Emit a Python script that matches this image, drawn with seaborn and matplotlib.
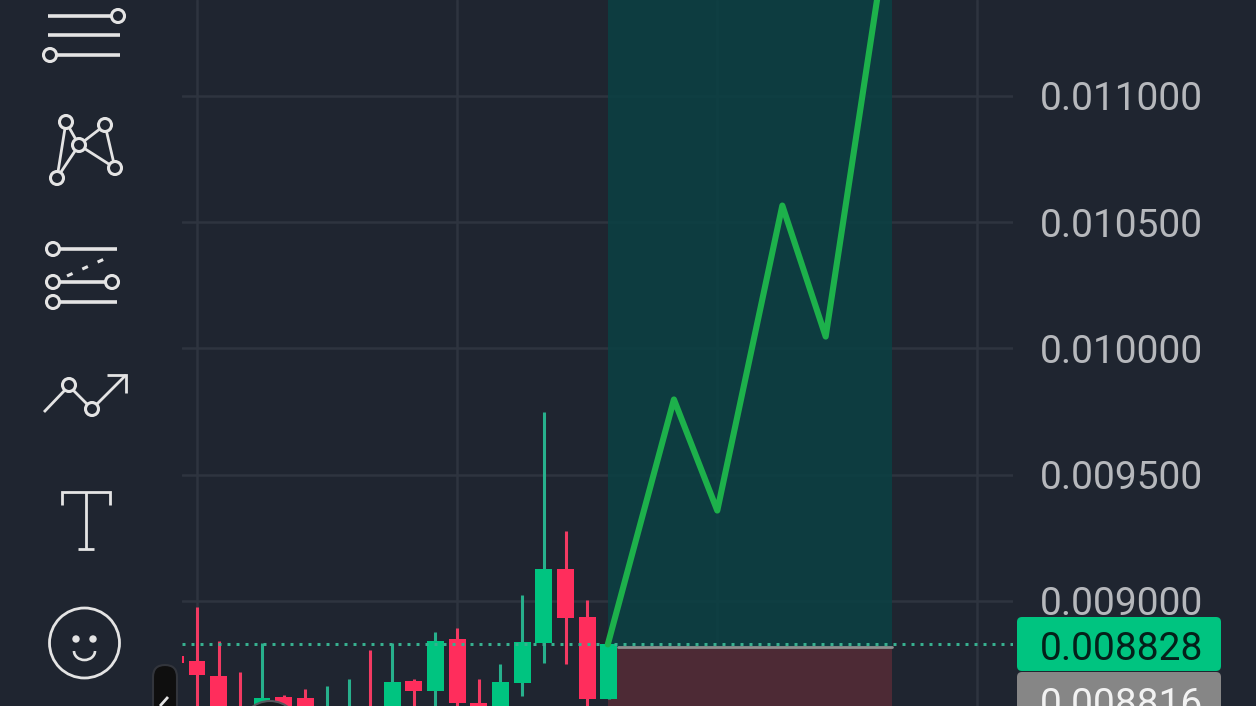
import matplotlib

matplotlib.use("Agg")
import matplotlib.pyplot as plt
import pandas as pd
import seaborn as sns
from matplotlib.patches import Arc, Circle, FancyBboxPatch

# price axis
PRICE_TICKS = [0.009, 0.0095, 0.010, 0.0105, 0.011]
PRICE_LABELS = ["0.009000", "0.009500", "0.010000", "0.010500", "0.011000"]
TIME_TICKS = [0, 12, 24, 36]

# candles, -1 is the one clipped at the left edge of the chart
# values under 0.00858 are below the visible part of the reference, so only a guess
CANDLE_INDEX = list(range(-1, 20))
OPENS = [0.008782, 0.008762, 0.008703, 0.008570, 0.008560, 0.008620, 0.008616, 0.008560, 0.008560,
         0.008570, 0.008560, 0.008683, 0.008644, 0.008850, 0.008596, 0.008560, 0.008675, 0.008834,
         0.009127, 0.008937, 0.008612]
CLOSES = [0.008754, 0.008707, 0.008560, 0.008560, 0.008616, 0.008560, 0.008560, 0.008570, 0.008570,
          0.008560, 0.008679, 0.008644, 0.008842, 0.008596, 0.008560, 0.008679, 0.008838, 0.009127,
          0.008933, 0.008612, 0.008828]
HIGHS = [0.008782, 0.008976, 0.008842, 0.008719, 0.008834, 0.008628, 0.008651, 0.008663, 0.008691,
         0.008806, 0.008834, 0.008691, 0.008877, 0.008893, 0.008691, 0.008750, 0.009024, 0.009749,
         0.009277, 0.009004, 0.008828]
LOWS = [0.008754, 0.008560, 0.008560, 0.008560, 0.008560, 0.008560, 0.008560, 0.008560, 0.008560,
        0.008560, 0.008560, 0.008560, 0.008560, 0.008560, 0.008560, 0.008560, 0.008624, 0.008754,
        0.008750, 0.008560, 0.008612]

# last price and the long position drawn on top of the chart
LAST_PRICE = 0.008828
ENTRY_PRICE = 0.008816
POSITION_START = 18.95
POSITION_END = 32.05
PATH_INDEX = [18.95, 22, 24, 27, 29, 31.42]
PATH_PRICE = [0.008828, 0.009798, 0.009358, 0.010566, 0.010047, 0.011410]

BG = "#1f2530"
GRID = "#2e343f"
GREEN = "#00c480"
RED = "#ff2d5c"
WICK_GREEN = "#27b08c"
WICK_RED = "#f23a62"
ICON = "#e4e4e4"

sns.set_theme(style="dark", rc={"axes.facecolor": BG, "figure.facecolor": BG})
plt.rcParams["font.family"] = ["Roboto", "DejaVu Sans"]

fig = plt.figure(figsize=(12.56, 7.06), dpi=100)
ax = fig.add_axes([182 / 1256, 0, (1013 - 182) / 1256, 1])
ax.set_xlim(-0.69, 37.64)
ax.set_ylim(0.008584, 0.011380)

ax.set_yticks(PRICE_TICKS, PRICE_LABELS)
ax.set_xticks(TIME_TICKS, [""] * len(TIME_TICKS))
ax.yaxis.tick_right()
ax.tick_params(axis="y", length=0, pad=19.2, labelsize=28, labelcolor="#b6b8bc")
ax.tick_params(axis="x", length=0)
ax.grid(True, color=GRID, linewidth=1.8)
ax.set_axisbelow(True)
sns.despine(ax=ax, left=True, bottom=True, right=True, top=True)

# position boxes, the grid shows faintly through the green one
ax.fill_between([POSITION_START, POSITION_END], ENTRY_PRICE, 0.0115, color="#0b4043", alpha=0.88,
                linewidth=0, zorder=1)
ax.fill_between([POSITION_START, POSITION_END], 0.0085, ENTRY_PRICE, color="#4d2a35", linewidth=0, zorder=1)

# candles
candles = pd.DataFrame({"i": CANDLE_INDEX, "open": OPENS, "close": CLOSES, "high": HIGHS, "low": LOWS})
candles["up"] = candles["close"] >= candles["open"]
for up, group in candles.groupby("up"):
    ax.vlines(group["i"], group["low"], group["high"], color=WICK_GREEN if up else WICK_RED,
              linewidth=2.2, zorder=3)
    ax.bar(group["i"], (group["close"] - group["open"]).abs(), bottom=group[["open", "close"]].min(axis=1),
           width=0.78, color=GREEN if up else RED, linewidth=0, zorder=4)

ax.axhline(LAST_PRICE, color="#37b08f", linewidth=2.16, linestyle=(0, (1, 2)), zorder=5)
ax.plot([POSITION_START + 0.45, POSITION_END], [ENTRY_PRICE, ENTRY_PRICE], color="#8f8f8f", linewidth=2, zorder=5)

path = pd.DataFrame({"i": PATH_INDEX, "price": PATH_PRICE})
sns.lineplot(data=path, x="i", y="price", color="#1db14b", linewidth=4.4, sort=False, ax=ax, zorder=6)
ax.set_xlabel("")
ax.set_ylabel("")

# toolbar and price badges live in pixel space on a full-figure overlay
over = fig.add_axes([0, 0, 1, 1], facecolor="none")
over.set_xlim(0, 1256)
over.set_ylim(706, 0)
over.axis("off")


def seg(points, lw=2.6):
    xs, ys = zip(*points)
    over.plot(xs, ys, color=ICON, linewidth=lw, solid_capstyle="butt", solid_joinstyle="miter")


def node(x, y, r=6.5):
    over.add_patch(Circle((x, y), r, facecolor=BG, edgecolor=ICON, linewidth=2.2, zorder=4))


seg([(48, 16), (112, 16)])
seg([(48, 35), (120, 35)])
seg([(56, 55), (120, 55)])
node(118, 16)
node(50, 55)

for a, b in [((66, 122), (57, 178)), ((66, 122), (79, 145)), ((79, 145), (57, 178)),
             ((79, 145), (105, 125)), ((105, 125), (115, 168)), ((79, 145), (115, 168))]:
    seg([a, b], 2)
for x, y in [(66, 122), (105, 125), (79, 145), (115, 168), (57, 178)]:
    node(x, y)

seg([(53, 249), (117, 249)])
seg([(53, 282), (112, 282)])
seg([(53, 302), (117, 302)])
over.plot([67, 111], [276, 256], color=ICON, linewidth=2.2, linestyle=(0, (2, 3.5)))
for x, y in [(53, 249), (53, 282), (112, 282), (53, 302)]:
    node(x, y)

seg([(44, 412), (65, 390)], 2)
seg([(73, 390), (88, 405)], 2)
seg([(97, 404), (126, 375)], 2)
seg([(107, 375), (126, 375), (126, 393)], 2)
node(69, 385)
node(92, 409)

seg([(62, 505), (62, 492), (110, 492), (110, 505)], 2)
seg([(86, 492), (86, 549)], 2)
seg([(78, 549), (94, 549)], 2)

over.add_patch(Circle((84.5, 643), 35, facecolor="none", edgecolor=ICON, linewidth=2))
over.add_patch(Circle((76, 639), 3, color=ICON))
over.add_patch(Circle((93, 639), 3, color=ICON))
over.add_patch(Arc((84.5, 651), 21, 18, theta1=0, theta2=180, color=ICON, linewidth=1.9))

# collapse handle and the round button cut by the bottom edge
over.add_patch(FancyBboxPatch((153, 665), 24, 70, boxstyle="round,pad=0,rounding_size=12", facecolor="#0f0f0f",
                              edgecolor="#32353c", linewidth=1.5, mutation_aspect=1))
seg([(168, 697), (160, 706)], 2)
over.add_patch(Circle((270, 731), 30, facecolor="#1a1c20", edgecolor="#55585e", linewidth=1.5))

# price badges
over.add_patch(FancyBboxPatch((1017, 617), 204, 54, boxstyle="round,pad=0,rounding_size=5", facecolor=GREEN,
                              edgecolor="none"))
over.add_patch(FancyBboxPatch((1017, 672), 204, 60, boxstyle="round,pad=0,rounding_size=5", facecolor="#868686",
                              edgecolor="none"))
over.text(1040, 649, f"{LAST_PRICE:.6f}", color="#04201a", fontsize=28, va="center", ha="left")
over.text(1040, 705, f"{ENTRY_PRICE:.6f}", color="#f2f2f2", fontsize=28, va="center", ha="left")

fig.savefig("out.png", dpi=100, facecolor=BG)
